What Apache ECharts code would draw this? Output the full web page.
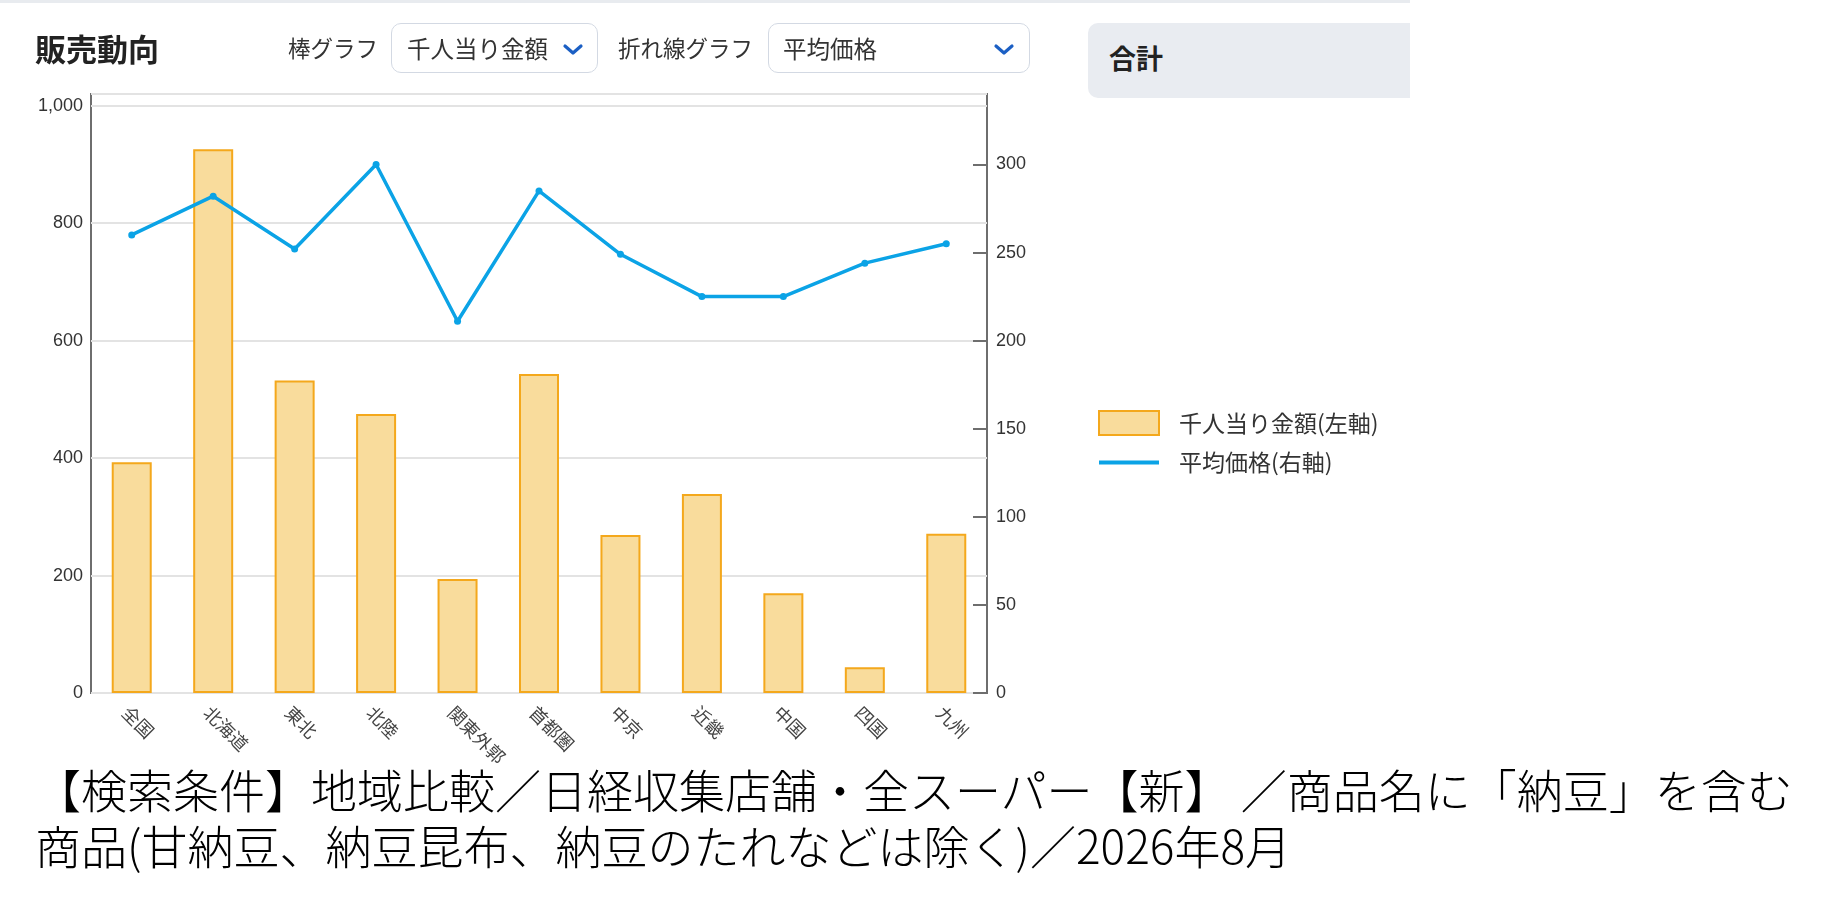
<!DOCTYPE html>
<html lang="ja">
<head>
<meta charset="utf-8">
<title>販売動向</title>
<script src="https://cdn.jsdelivr.net/npm/echarts@6/dist/echarts.min.js"></script>
<style>
  html, body { margin: 0; padding: 0; background: #fff; }
  body { width: 1840px; height: 903px; position: relative; overflow: hidden;
         font-family: "Noto Sans CJK JP", "Noto Sans", sans-serif; color: #333; }
  #chart { position: absolute; left: 0; top: 0; width: 1840px; height: 903px; }
  .abs { position: absolute; }
  .topline { left: 0; top: 0; width: 1410px; height: 3px; background: #e8ebef; }
  .title { left: 35px; top: 26px; font-size: 31px; font-weight: bold; color: #222; line-height: 44px; }
  .lbl { font-size: 22.5px; line-height: 30px; top: 32px; color: #333; }
  .sel { top: 23px; height: 48px; border: 1.5px solid #d3d9e3; border-radius: 10px; background: #fff;
         font-size: 23.5px; line-height: 48px; color: #333; box-sizing: content-box; }
  .sel span { position: absolute; top: 0; }
  .sel svg { position: absolute; top: 19px; }
  .panel { left: 1088px; top: 23px; width: 322px; height: 75px; background: #e9ecf1;
           border-radius: 10px 0 0 10px; }
  .panel span { position: absolute; left: 21px; top: 15px; font-size: 27px; font-weight: bold;
                line-height: 40px; color: #222; }
  .note { left: 35px; top: 760px; font-size: 46px; font-weight: 300; line-height: 56px; color: #000; white-space: nowrap; }
</style>
</head>
<body>
<div id="chart"></div>
<div class="abs topline"></div>
<div class="abs title">販売動向</div>
<div class="abs lbl" style="left:288px">棒グラフ</div>
<div class="abs sel" style="left:391px;width:205px">
  <span style="left:15px">千人当り金額</span>
  <svg style="left:170px" width="22" height="14" viewBox="0 0 22 14"><polyline points="3,3 11,10 19,3" fill="none" stroke="#1b5fc4" stroke-width="3.2" stroke-linecap="round" stroke-linejoin="round"/></svg>
</div>
<div class="abs lbl" style="left:618px">折れ線グラフ</div>
<div class="abs sel" style="left:768px;width:260px">
  <span style="left:14px">平均価格</span>
  <svg style="left:224px" width="22" height="14" viewBox="0 0 22 14"><polyline points="3,3 11,10 19,3" fill="none" stroke="#1b5fc4" stroke-width="3.2" stroke-linecap="round" stroke-linejoin="round"/></svg>
</div>
<div class="abs panel"><span>合計</span></div>
<div class="abs note">【検索条件】地域比較／日経収集店舗・全スーパー【新】 ／商品名に「納豆」を含む<br>商品(甘納豆、納豆昆布、納豆のたれなどは除く)／2026年8月</div>
<script>
'use strict';

// 地域
const regions = ['全国', '北海道', '東北', '北陸', '関東外郭', '首都圏', '中京', '近畿', '中国', '四国', '九州'];
// 千人当り金額(左軸)
const amountPerThousand = [393, 926, 532, 475, 194, 543, 269, 339, 170, 44, 271];
// 平均価格(右軸)
const avgPrice = [260, 282, 252, 300, 211, 285, 249, 225, 225, 244, 255];

const barName = '千人当り金額(左軸)';
const lineName = '平均価格(右軸)';
const numFont = "'Liberation Sans', Arial, 'Noto Sans CJK JP', sans-serif";
const jpFont = "'Noto Sans CJK JP', sans-serif";

const chart = echarts.init(document.getElementById('chart'));
const option = {
  animation: false,
  grid: {
    left: 91,
    right: 853,
    top: 94,
    bottom: 210,
    show: true,
    borderColor: '#6e6e6e',
    borderWidth: 2,
    containLabel: false
  },
  legend: {
    orient: 'vertical',
    left: 1093,
    top: 405,
    itemWidth: 60,
    itemHeight: 24,
    itemGap: 15,
    textStyle: {
      fontFamily: jpFont,
      fontSize: 23,
      color: '#333',
      padding: [0, 0, 0, 15]
    },
    data: [
      { name: barName, icon: 'rect' },
      { name: lineName, icon: 'path://M0,0 L60,0 L60,4 L0,4 Z' }
    ]
  },
  xAxis: {
    type: 'category',
    data: regions,
    axisLine: { show: false },
    axisTick: { show: false },
    axisLabel: {
      rotate: -45,
      margin: 10,
      align: 'left',
      verticalAlign: 'top',
      fontFamily: jpFont,
      fontSize: 18,
      color: '#444'
    }
  },
  yAxis: [
    {
      type: 'value',
      min: 0,
      max: 1020,
      interval: 200,
      axisLine: { show: false },
      axisTick: { show: false },
      axisLabel: {
        showMaxLabel: false,
        margin: 8,
        fontFamily: numFont,
        fontSize: 18,
        color: '#333'
      },
      splitLine: { lineStyle: { color: '#e3e3e3', width: 2 } }
    },
    {
      type: 'value',
      position: 'right',
      min: 0,
      max: 340,
      interval: 50,
      axisLine: { show: false },
      axisTick: { show: true, inside: true, length: 14, lineStyle: { color: '#6e6e6e', width: 2 } },
      axisLabel: {
        showMaxLabel: false,
        margin: 9,
        fontFamily: numFont,
        fontSize: 18,
        color: '#333'
      },
      splitLine: { show: false }
    }
  ],
  series: [
    {
      name: barName,
      type: 'bar',
      yAxisIndex: 0,
      barWidth: 40,
      data: amountPerThousand,
      itemStyle: { color: '#f9dc9c', borderColor: '#f4a81c', borderWidth: 2 },
      z: 2
    },
    {
      name: lineName,
      type: 'line',
      yAxisIndex: 1,
      data: avgPrice,
      symbol: 'circle',
      symbolSize: 7,
      itemStyle: { color: '#0ba3e6' },
      lineStyle: { color: '#0ba3e6', width: 3.5 },
      z: 3
    }
  ]
};
chart.setOption(option);
</script>
</body>
</html>
